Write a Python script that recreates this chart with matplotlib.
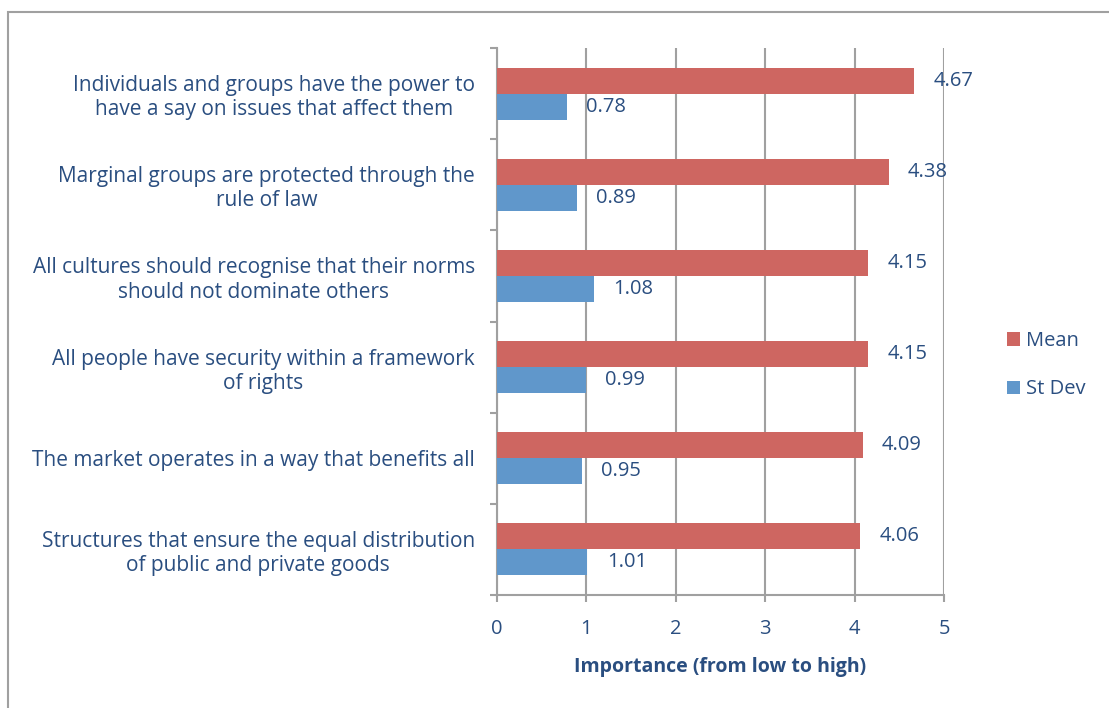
import matplotlib.pyplot as plt
import numpy as np
from matplotlib.patches import Rectangle

categories = [
    "Individuals and groups have the power to\nhave a say on issues that affect them",
    "Marginal groups are protected through the\nrule of law",
    "All cultures should recognise that their norms\nshould not dominate others",
    "All people have security within a framework\nof rights",
    "The market operates in a way that benefits all",
    "Structures that ensure the equal distribution\nof public and private goods",
]
mean = [4.67, 4.38, 4.15, 4.15, 4.09, 4.06]
st_dev = [0.78, 0.89, 1.08, 0.99, 0.95, 1.01]
x_ticks = [0, 1, 2, 3, 4, 5]

txt = '#2A4E80'
grey = '#A0A0A0'
fs = 14.5
plt.rcParams['font.family'] = ['Open Sans', 'DejaVu Sans']

fig = plt.figure(figsize=(11.09, 7.08), dpi=100)
fig.patches.append(Rectangle((8 / 1109, -0.1), 1.2, 1 - 12 / 708 + 0.1, transform=fig.transFigure,
                             fill=False, edgecolor=grey, linewidth=1.5))
ax = fig.add_axes([497 / 1109, 1 - 595 / 708, 447 / 1109, 547 / 708])

n = len(categories)
y = n - 1 - np.arange(n) + 0.5
h = 0.285
ax.barh(y + h / 2, mean, height=h, color='#CE6661', label='Mean', zorder=3)
ax.barh(y - h / 2, st_dev, height=h, color='#6097CB', label='St Dev', zorder=3)

for yi, v in zip(y + h / 2, mean):
    ax.annotate(f"{v:.2f}", (v, yi), xytext=(14, 0), textcoords='offset points',
                va='center', ha='left', color=txt, fontsize=fs)
for yi, v in zip(y - h / 2, st_dev):
    ax.annotate(f"{v:.2f}", (v, yi), xytext=(14, 0), textcoords='offset points',
                va='center', ha='left', color=txt, fontsize=fs)

ax.set_xlim(0, 5)
ax.set_ylim(0, n)
ax.set_xticks(x_ticks)
ax.set_xticklabels([str(t) for t in x_ticks], color=txt, fontsize=fs)
ax.tick_params(axis='x', direction='out', length=5, color=grey, width=1.5, pad=12)
ax.set_yticks(np.arange(n + 1))
ax.set_yticklabels([])
ax.tick_params(axis='y', which='major', direction='out', length=5, color=grey, width=1.5)
ax.set_yticks(y, minor=True)
ax.set_yticklabels(categories, minor=True, color=txt, fontsize=15, ha='right',
                   multialignment='center', linespacing=1.2)
ax.tick_params(axis='y', which='minor', length=0, pad=16)

ax.grid(axis='x', color=grey, linewidth=1.5, zorder=0)
for s in ['top', 'right']:
    ax.spines[s].set_visible(False)
for s in ['left', 'bottom']:
    ax.spines[s].set_color(grey)
    ax.spines[s].set_linewidth(1.5)

ax.set_xlabel("Importance (from low to high)", color=txt, fontsize=14, fontweight='bold', labelpad=13)

leg = ax.legend(loc='center left', bbox_to_anchor=(1.1, 0.42), frameon=False, fontsize=fs,
                handlelength=0.65, handleheight=0.65, handletextpad=0.3, labelspacing=1.4)
for t in leg.get_texts():
    t.set_color(txt)

fig.savefig('out.png', dpi=100)
